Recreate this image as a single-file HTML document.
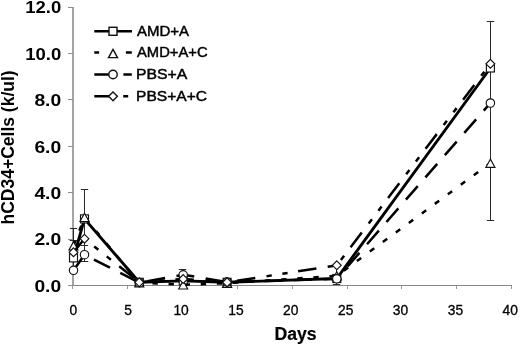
<!DOCTYPE html>
<html><head><meta charset="utf-8"><title>Chart</title>
<style>html,body{margin:0;padding:0;background:#fff}svg{display:block}.t,.t text{font-family:"Liberation Sans",sans-serif}</style></head>
<body>
<svg width="520" height="344" viewBox="0 0 520 344">
<rect width="520" height="344" fill="#fff"/>
<g stroke="#868686" stroke-width="1" fill="none" shape-rendering="crispEdges">
<path d="M73 7V286" stroke="#a4a4a4" stroke-width="2"/><path d="M72 285.5H512"/>
<path d="M68 285.5H73" stroke="#8e8e8e"/>
<path d="M68 239.5H73" stroke="#8e8e8e"/>
<path d="M68 192.5H73" stroke="#8e8e8e"/>
<path d="M68 146.5H73" stroke="#8e8e8e"/>
<path d="M68 99.5H73" stroke="#8e8e8e"/>
<path d="M68 53.5H73" stroke="#8e8e8e"/>
<path d="M68 7.5H73" stroke="#8e8e8e"/>
<path d="M72.5 286V289" stroke="#9a9a9a"/>
<path d="M127.5 286V289" stroke="#9a9a9a"/>
<path d="M182.5 286V289" stroke="#9a9a9a"/>
<path d="M237.5 286V289" stroke="#9a9a9a"/>
<path d="M292.5 286V289" stroke="#9a9a9a"/>
<path d="M347.5 286V289" stroke="#9a9a9a"/>
<path d="M401.5 286V289" stroke="#9a9a9a"/>
<path d="M456.5 286V289" stroke="#9a9a9a"/>
<path d="M511.5 286V289" stroke="#9a9a9a"/>
</g>
<g class="t" fill="#000">
<text x="34.4" y="291.6" font-size="17" font-weight="bold" textLength="26.8" lengthAdjust="spacingAndGlyphs">0.0</text>
<text x="34.4" y="245.2" font-size="17" font-weight="bold" textLength="26.8" lengthAdjust="spacingAndGlyphs">2.0</text>
<text x="34.4" y="198.8" font-size="17" font-weight="bold" textLength="26.8" lengthAdjust="spacingAndGlyphs">4.0</text>
<text x="34.4" y="152.5" font-size="17" font-weight="bold" textLength="26.8" lengthAdjust="spacingAndGlyphs">6.0</text>
<text x="34.4" y="106.1" font-size="17" font-weight="bold" textLength="26.8" lengthAdjust="spacingAndGlyphs">8.0</text>
<text x="25.2" y="59.7" font-size="17" font-weight="bold" textLength="36.0" lengthAdjust="spacingAndGlyphs">10.0</text>
<text x="25.2" y="13.3" font-size="17" font-weight="bold" textLength="36.0" lengthAdjust="spacingAndGlyphs">12.0</text>
<text x="73.3" y="315.2" font-size="13.8" text-anchor="middle" stroke="#000" stroke-width="0.3">0</text>
<text x="128.2" y="315.2" font-size="13.8" text-anchor="middle" stroke="#000" stroke-width="0.3">5</text>
<text x="181.1" y="315.2" font-size="13.8" text-anchor="middle" stroke="#000" stroke-width="0.3">10</text>
<text x="236.0" y="315.2" font-size="13.8" text-anchor="middle" stroke="#000" stroke-width="0.3">15</text>
<text x="290.8" y="315.2" font-size="13.8" text-anchor="middle" stroke="#000" stroke-width="0.3">20</text>
<text x="345.7" y="315.2" font-size="13.8" text-anchor="middle" stroke="#000" stroke-width="0.3">25</text>
<text x="400.5" y="315.2" font-size="13.8" text-anchor="middle" stroke="#000" stroke-width="0.3">30</text>
<text x="455.4" y="315.2" font-size="13.8" text-anchor="middle" stroke="#000" stroke-width="0.3">35</text>
<text x="510.2" y="315.2" font-size="13.8" text-anchor="middle" stroke="#000" stroke-width="0.3">40</text>
<text x="295.5" y="339.6" font-size="17.6" font-weight="bold" text-anchor="middle" stroke="#000" stroke-width="0.2">Days</text>
<text transform="translate(14 147.4) rotate(-90)" font-size="17.5" font-weight="bold" text-anchor="middle">hCD34+Cells (k/ul)</text>
</g>
<g stroke="#2a2a2a" stroke-width="1" fill="none">
<path d="M490.5 21.5V220.5M486.8 21.5H494.2M486.8 220.5H494.2"/>
<path d="M84.5 189.5V261.5M80.8 189.5H88.2M80.8 261.5H88.2"/>
<path d="M73.5 228.5V272M69.8 228.5H77.2M69.8 272H77.2"/>
<path d="M69.7 240.5H77.1M80.7 245.5H88.1"/>
<path d="M182.5 269.5V286M178.8 269.5H186.2"/>
<path d="M336.5 267V284.5M332.8 284.5H340.2"/>
</g>
<polyline points="73.5,257.9 84.5,218.9 139.3,282.3 183.2,280.9 227.1,282.3 336.8,278.5 490.4,68.0" fill="none" stroke="#000" stroke-width="2.9" stroke-linejoin="round"/>
<g fill="#fff" stroke="#111" stroke-width="1.15"><rect x="69.5" y="253.9" width="8" height="8"/><rect x="80.5" y="214.9" width="8" height="8"/><rect x="135.3" y="278.3" width="8" height="8"/><rect x="179.2" y="276.9" width="8" height="8"/><rect x="223.1" y="278.3" width="8" height="8"/><rect x="332.8" y="274.5" width="8" height="8"/><rect x="486.4" y="64.0" width="8" height="8"/></g>
<polyline points="73.5,245.8 84.5,217.3 139.3,282.7 183.2,284.8 227.1,283.2 336.8,275.8 490.4,163.1" fill="none" stroke="#000" stroke-width="2.5" stroke-linejoin="round" stroke-dasharray="5.4 10.72" stroke-dashoffset="16.07"/>
<g fill="#fff" stroke="#111" stroke-width="1.15"><path d="M73.5 241.8L78.0 250.0H69.0Z"/><path d="M84.5 213.3L89.0 221.5H80.0Z"/><path d="M139.3 278.7L143.8 286.9H134.8Z"/><path d="M183.2 280.8L187.7 289.0H178.7Z"/><path d="M227.1 279.2L231.6 287.4H222.6Z"/><path d="M336.8 271.8L341.3 280.0H332.3Z"/><path d="M490.4 159.1L494.9 167.3H485.9Z"/></g>
<polyline points="73.5,270.3 84.5,254.7 139.3,282.7 183.2,274.8 227.1,282.0 336.8,278.8 490.4,103.0" fill="none" stroke="#000" stroke-width="2.5" stroke-linejoin="round" stroke-dasharray="18 11.57" stroke-dashoffset="29.45"/>
<g fill="#fff" stroke="#111" stroke-width="1.15"><circle cx="73.5" cy="270.3" r="4.2"/><circle cx="84.5" cy="254.7" r="4.2"/><circle cx="139.3" cy="282.7" r="4.2"/><circle cx="183.2" cy="274.8" r="4.2"/><circle cx="227.1" cy="282.0" r="4.2"/><circle cx="336.8" cy="278.8" r="4.2"/><circle cx="490.4" cy="103.0" r="4.2"/></g>
<polyline points="73.5,252.3 84.5,238.7 139.3,282.3 183.2,279.0 227.1,282.3 336.8,265.3 490.4,63.8" fill="none" stroke="#000" stroke-width="2.5" stroke-linejoin="round" stroke-dasharray="18.5 11.4 5.3 10.7 5.3 10.66" stroke-dashoffset="61.86"/>
<g fill="#fff" stroke="#111" stroke-width="1.15"><path d="M73.5 247.9L77.9 252.3L73.5 256.7L69.1 252.3Z"/><path d="M84.5 234.3L88.9 238.7L84.5 243.1L80.1 238.7Z"/><path d="M139.3 277.9L143.7 282.3L139.3 286.7L134.9 282.3Z"/><path d="M183.2 274.6L187.6 279.0L183.2 283.4L178.8 279.0Z"/><path d="M227.1 277.9L231.5 282.3L227.1 286.7L222.7 282.3Z"/><path d="M336.8 260.9L341.2 265.3L336.8 269.7L332.4 265.3Z"/><path d="M490.4 59.4L494.8 63.8L490.4 68.2L486.0 63.8Z"/></g>
<path d="M94.3 31.3H132" stroke="#000" stroke-width="2.6"/>
<g fill="#fff" stroke="#111" stroke-width="1.4"><rect x="109.0" y="27.3" width="8" height="8"/></g>
<text x="137" y="36.0" textLength="52.0" lengthAdjust="spacingAndGlyphs" class="t" font-size="14.7" fill="#000" stroke="#000" stroke-width="0.45">AMD+A</text>
<path d="M94.3 52.5H99.1M125.9 52.5H131.8" stroke="#000" stroke-width="2.6"/>
<g fill="#fff" stroke="#111" stroke-width="1.4"><path d="M113.0 49.4L117.5 57.6H108.5Z"/></g>
<text x="137" y="57.2" textLength="70.6" lengthAdjust="spacingAndGlyphs" class="t" font-size="14.7" fill="#000" stroke="#000" stroke-width="0.45">AMD+A+C</text>
<path d="M94.3 74.5H113M123.4 74.5H131.8" stroke="#000" stroke-width="2.6"/>
<g fill="#fff" stroke="#111" stroke-width="1.4"><circle cx="113.0" cy="74.5" r="4.2"/></g>
<text x="136" y="79.2" textLength="51.3" lengthAdjust="spacingAndGlyphs" class="t" font-size="14.7" fill="#000" stroke="#000" stroke-width="0.45">PBS+A</text>
<path d="M94.3 96.3H113M123.2 96.3H128.2" stroke="#000" stroke-width="2.6"/>
<g fill="#fff" stroke="#111" stroke-width="1.4"><path d="M113.0 91.9L117.4 96.3L113.0 100.7L108.6 96.3Z"/></g>
<text x="136" y="101.0" textLength="71.0" lengthAdjust="spacingAndGlyphs" class="t" font-size="14.7" fill="#000" stroke="#000" stroke-width="0.45">PBS+A+C</text>
</svg>
</body></html>
